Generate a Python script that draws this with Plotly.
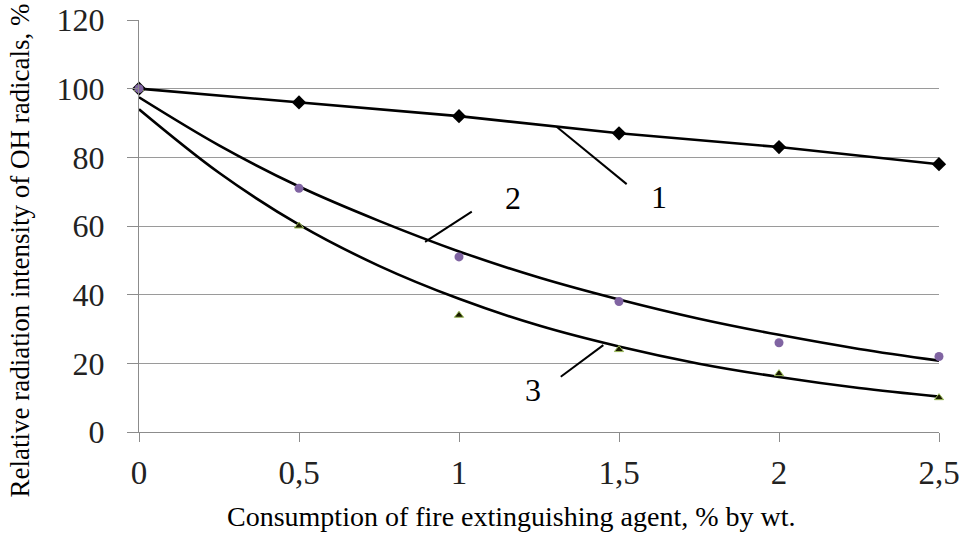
import plotly.graph_objects as go

# Data
x_points = [0, 0.5, 1, 1.5, 2, 2.5]
series1 = [100, 96, 92, 87, 83, 78]
series2 = [100, 71, 51, 38, 26, 22]
series3 = [100, 60, 34, 24, 17, 10]

# Trend curves
x_curve = [0, 0.25, 0.5, 0.75, 1.0, 1.25, 1.5, 1.75, 2.0, 2.25, 2.5]
curve2 = [97.5, 83.5, 71.5, 61.5, 52.6, 45.0, 38.6, 33.0, 28.3, 24.2, 20.8]
curve3 = [94.0, 75.5, 60.4, 48.4, 38.8, 31.0, 24.9, 19.9, 16.0, 12.8, 10.3]

x_ticks = [0, 0.5, 1, 1.5, 2, 2.5]
x_tick_labels = ["0", "0,5", "1", "1,5", "2", "2,5"]
y_ticks = [0, 20, 40, 60, 80, 100, 120]

curve_labels = ["1", "2", "3"]

FONT = "Liberation Serif"

fig = go.Figure()

# Trend curves
fig.add_trace(go.Scatter(x=x_curve, y=curve2, mode="lines", line=dict(color="black", width=2.6, shape="spline"),
                         showlegend=False, hoverinfo="skip", cliponaxis=False))
fig.add_trace(go.Scatter(x=x_curve, y=curve3, mode="lines", line=dict(color="black", width=2.6, shape="spline"),
                         showlegend=False, hoverinfo="skip", cliponaxis=False))

# Series 1: line with diamonds
fig.add_trace(go.Scatter(x=x_points, y=series1, mode="lines+markers",
                         line=dict(color="black", width=2.6),
                         marker=dict(symbol="diamond", size=11, color="black"),
                         showlegend=False, cliponaxis=False))
# Series 3 markers
fig.add_trace(go.Scatter(x=x_points, y=series3, mode="markers",
                         marker=dict(symbol="triangle-up", size=8, color="#1a1a00",
                                     line=dict(color="#9BBB59", width=1)),
                         showlegend=False, cliponaxis=False))
# Series 2 markers
fig.add_trace(go.Scatter(x=x_points, y=series2, mode="markers",
                         marker=dict(symbol="circle", size=9, color="#8064A2"),
                         showlegend=False, cliponaxis=False))

# Leader lines and labels
leaders = [
    ((1.305, 88.9), (1.524, 72.2), (1.625, 68.5)),
    ((1.040, 64.2), (0.894, 55.4), (1.169, 68.2)),
    ((1.451, 25.3), (1.318, 16.1), (1.232, 12.2)),
]
for lab, ((x0, y0), (x1, y1), (lx, ly)) in zip(curve_labels, leaders):
    fig.add_shape(type="line", x0=x0, y0=y0, x1=x1, y1=y1, xref="x", yref="y",
                  line=dict(color="black", width=2))
    fig.add_annotation(x=lx, y=ly, xref="x", yref="y", text=lab, showarrow=False,
                       xanchor="center", yanchor="middle",
                       font=dict(family=FONT, size=32, color="black"))

# Axis titles
fig.add_annotation(x=-0.149, y=0.44, xref="paper", yref="paper",
                   xanchor="center", yanchor="middle",
                   text="Relative radiation intensity of OH radicals, %",
                   textangle=-90, showarrow=False,
                   font=dict(family=FONT, size=27, color="black"))
fig.add_annotation(x=0.465, y=-0.206, xref="paper", yref="paper",
                   xanchor="center", yanchor="middle",
                   text="Consumption of fire extinguishing agent, % by wt.",
                   showarrow=False,
                   font=dict(family=FONT, size=28, color="black"))

fig.update_xaxes(range=[0, 2.5], tickvals=x_ticks, ticktext=x_tick_labels,
                 showgrid=False, zeroline=False, automargin=False,
                 showline=True, linecolor="#8c8c8c", linewidth=1,
                 ticks="outside", ticklen=9, tickcolor="#8c8c8c",
                 ticklabelstandoff=2,
                 tickfont=dict(family=FONT, size=33, color="#222"))
fig.update_yaxes(range=[0, 120], tickvals=y_ticks,
                 showgrid=True, gridcolor="#9a9a9a", gridwidth=1, zeroline=False,
                 automargin=False,
                 showline=True, linecolor="#8c8c8c", linewidth=1,
                 ticks="outside", ticklen=11, tickcolor="#8c8c8c",
                 ticklabelstandoff=16,
                 tickfont=dict(family=FONT, size=32, color="#222"))

fig.update_layout(width=962, height=538,
                  margin=dict(l=139, r=23, t=20, b=106),
                  plot_bgcolor="white", paper_bgcolor="white",
                  showlegend=False)

fig.write_html("out.html")
